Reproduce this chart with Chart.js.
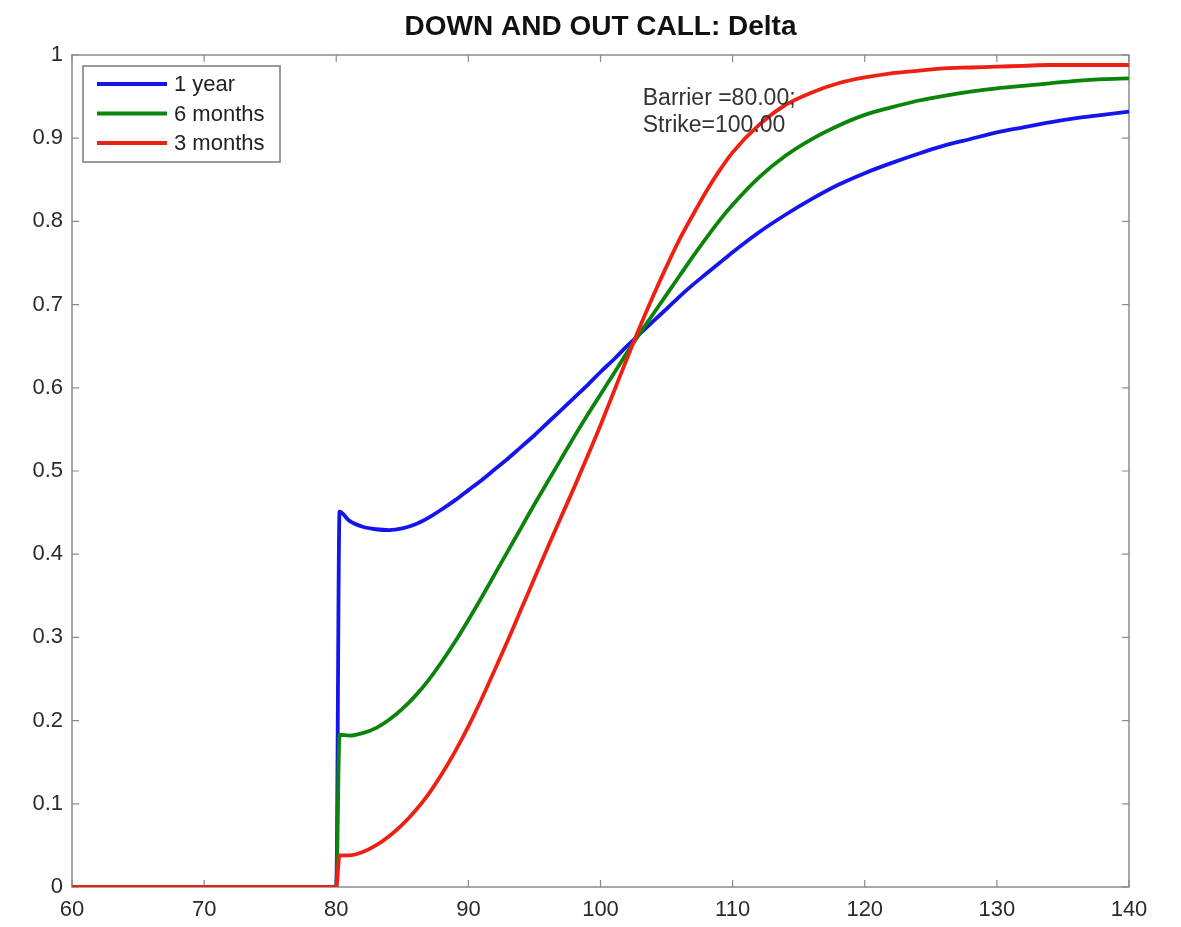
<!DOCTYPE html>
<html>
<head>
<meta charset="utf-8">
<title>Down and out call: Delta</title>
<script src="https://cdn.jsdelivr.net/npm/chart.js@4.4.0/dist/chart.umd.min.js"></script>
<style>
  html, body { margin: 0; padding: 0; background: #fff; }
</style>
</head>
<body>
<canvas id="deltaChart" width="1181" height="927"></canvas>
<script>
// ==================== DATA ====================

// spot price (x axis)
const spot = [60, 80, 80.25, 81, 82, 83, 84, 85, 86, 87, 88, 89, 90, 91, 92, 93, 94, 95, 96, 97, 98, 99,
  100, 101, 102, 103, 104, 105, 106, 107, 108, 109, 110, 112, 114, 116, 118, 120, 122, 124, 126, 128,
  130, 132, 134, 136, 138, 140];

// delta for each maturity
const delta1y = [0, 0, 0.451, 0.440, 0.433, 0.430, 0.429, 0.431, 0.436, 0.444, 0.454, 0.465, 0.477, 0.489,
  0.502, 0.515, 0.529, 0.543, 0.558, 0.573, 0.588, 0.603, 0.619, 0.634, 0.650, 0.665, 0.680, 0.695,
  0.710, 0.724, 0.737, 0.750, 0.763, 0.787, 0.808, 0.827, 0.844, 0.858, 0.870, 0.881, 0.891, 0.899,
  0.907, 0.913, 0.919, 0.924, 0.928, 0.932];

const delta6m = [0, 0, 0.183, 0.182, 0.185, 0.191, 0.201, 0.214, 0.230, 0.249, 0.271, 0.295, 0.321, 0.348,
  0.376, 0.404, 0.432, 0.460, 0.487, 0.514, 0.541, 0.567, 0.592, 0.617, 0.642, 0.666, 0.689, 0.712,
  0.735, 0.758, 0.780, 0.801, 0.820, 0.853, 0.879, 0.899, 0.915, 0.928, 0.937, 0.945, 0.951, 0.956,
  0.960, 0.963, 0.966, 0.969, 0.971, 0.972];

const delta3m = [0, 0, 0.038, 0.038, 0.042, 0.050, 0.061, 0.075, 0.092, 0.112, 0.136, 0.163, 0.193, 0.226,
  0.261, 0.297, 0.334, 0.371, 0.408, 0.444, 0.480, 0.517, 0.555, 0.595, 0.635, 0.674, 0.711, 0.746,
  0.779, 0.808, 0.836, 0.861, 0.883, 0.916, 0.940, 0.955, 0.966, 0.973, 0.978, 0.981, 0.984, 0.985,
  0.986, 0.987, 0.988, 0.988, 0.988, 0.988];

const seriesLabels = ["1 year", "6 months", "3 months"];
const seriesColors = ["#1414ec", "#0b840b", "#ee2014"];
const chartTitle = "DOWN AND OUT CALL: Delta";
const noteLines = ["Barrier =80.00;", "Strike=100.00"];

// ==================== HELPERS ====================

function toPoints(ys) {
  return spot.map((x, i) => ({ x: x, y: ys[i] }));
}

const FONT = "'Liberation Sans', Arial, Helvetica, sans-serif";

// box around the plot with inward ticks on all four sides (matlab style)
const boxPlugin = {
  id: "box",
  beforeDatasetsDraw(chart) {
    const { ctx, chartArea: a, scales } = chart;
    ctx.save();
    ctx.strokeStyle = "#8a8a8a";
    ctx.lineWidth = 1.5;
    ctx.strokeRect(a.left, a.top, a.right - a.left, a.bottom - a.top);
    ctx.lineWidth = 1.2;
    ctx.beginPath();
    scales.x.ticks.forEach((t) => {
      const px = scales.x.getPixelForValue(t.value);
      ctx.moveTo(px, a.bottom); ctx.lineTo(px, a.bottom - 7);
      ctx.moveTo(px, a.top); ctx.lineTo(px, a.top + 7);
    });
    scales.y.ticks.forEach((t) => {
      const py = scales.y.getPixelForValue(t.value);
      ctx.moveTo(a.left, py); ctx.lineTo(a.left + 7, py);
      ctx.moveTo(a.right, py); ctx.lineTo(a.right - 7, py);
    });
    ctx.stroke();
    ctx.restore();
  },
};

// title (centred over the plot), legend box and the barrier/strike note
const decorPlugin = {
  id: "decor",
  afterDraw(chart) {
    const { ctx, chartArea: a, scales } = chart;
    ctx.save();

    ctx.font = "bold 28px " + FONT;
    ctx.fillStyle = "#111";
    ctx.textAlign = "center";
    ctx.textBaseline = "middle";
    ctx.fillText(chartTitle, (a.left + a.right) / 2, 27);

    const bx = a.left + 11, by = a.top + 11, bw = 197, bh = 96;
    ctx.fillStyle = "#fff";
    ctx.fillRect(bx, by, bw, bh);
    ctx.strokeStyle = "#7a7a7a";
    ctx.lineWidth = 1.5;
    ctx.strokeRect(bx, by, bw, bh);

    ctx.font = "22px " + FONT;
    ctx.textAlign = "left";
    chart.data.datasets.forEach((ds, i) => {
      const y = by + 18 + i * 29.5;
      ctx.strokeStyle = ds.borderColor;
      ctx.lineWidth = 4;
      ctx.beginPath();
      ctx.moveTo(bx + 14, y);
      ctx.lineTo(bx + 84, y);
      ctx.stroke();
      ctx.fillStyle = "#222";
      ctx.fillText(ds.label, bx + 91, y + 1);
    });

    // note text, placed in data coordinates
    ctx.font = "23px " + FONT;
    ctx.fillStyle = "#333";
    const nx = scales.x.getPixelForValue(103.2);
    noteLines.forEach((line, i) => {
      ctx.fillText(line, nx, scales.y.getPixelForValue(0.948) + i * 27);
    });

    ctx.restore();
  },
};

// ==================== CHART ====================

const datasets = [delta1y, delta6m, delta3m].map((ys, i) => ({
  label: seriesLabels[i],
  data: toPoints(ys),
  borderColor: seriesColors[i],
  backgroundColor: seriesColors[i],
  borderWidth: 3.8,
  pointRadius: 0,
  cubicInterpolationMode: "monotone",
  order: 2 - i, // red on top, like the original
}));

new Chart(document.getElementById("deltaChart"), {
  type: "line",
  data: { datasets: datasets },
  options: {
    responsive: false,
    animation: false,
    layout: { padding: { left: 0, right: 52, top: 55, bottom: 0 } },
    plugins: {
      legend: { display: false },
      tooltip: { enabled: false },
      title: { display: false },
    },
    scales: {
      x: {
        type: "linear",
        min: 60,
        max: 140,
        grid: { display: false, drawTicks: false },
        border: { display: false },
        ticks: {
          stepSize: 10,
          color: "#2a2a2a",
          font: { family: FONT, size: 22 },
          padding: 10,
          maxRotation: 0,
        },
        afterFit(scale) { scale.height = 40; },
      },
      y: {
        min: 0,
        max: 1,
        grid: { display: false, drawTicks: false },
        border: { display: false },
        ticks: {
          stepSize: 0.1,
          color: "#2a2a2a",
          font: { family: FONT, size: 22 },
          padding: 9,
          callback: (v) => (v === 0 || v === 1 ? String(v) : v.toFixed(1)),
        },
        afterFit(scale) { scale.width = 72; },
      },
    },
  },
  plugins: [boxPlugin, decorPlugin],
});
</script>
</body>
</html>
